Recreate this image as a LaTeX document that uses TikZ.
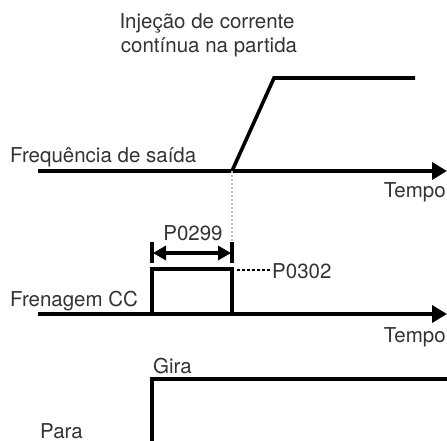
\documentclass[tikz,border=0pt]{standalone}
\usepackage{fontspec}
\setmainfont{TeX Gyre Heros}
\usetikzlibrary{arrows.meta}
\begin{document}
\begin{tikzpicture}[x=1pt, y=-1pt,
  every node/.style={font=\fontsize{20.5}{24}\selectfont, inner sep=0pt, text=black!80},
  sig/.style={line width=3.6pt, line join=miter},
  axis/.style={line width=3.6pt, -{Triangle[length=15pt,width=17pt]}},
  dim/.style={line width=3.6pt, {Triangle[length=13pt,width=14pt]}-{Triangle[length=13pt,width=14pt]}}]
\useasboundingbox (0,0) rectangle (447,441);
% labels
\node[anchor=base] (title1) at (207,29) {Injeção de corrente};
\node[anchor=base] (title2) at (209,53) {contínua na partida};
\node[anchor=base west] (freq) at (10,162) {Frequência de saída};
\node[anchor=base east] (tempo1) at (446,197) {Tempo};
\node[anchor=base] (p299) at (193,240) {P0299};
\node[anchor=base west] (p302) at (272,278) {P0302};
\node[anchor=base west] (frena) at (10,306) {Frenagem CC};
\node[anchor=base east] (tempo2) at (446,342) {Tempo};
\node[anchor=base west] (gira) at (153,373) {Gira};
\node[anchor=base west] (para) at (40,438) {Para};
% axes
\coordinate (a1) at (38,171); \coordinate (a1e) at (447,171);
\coordinate (a2) at (38,314); \coordinate (a2e) at (447,314);
\draw[axis] (a1) -- (a1e);
\draw[axis] (a2) -- (a2e);
% output frequency
\coordinate (start) at (232,171);
\draw[sig] (start) -- (274,78) -- (415,78);
\draw[gray!55, line width=1.2pt, dash pattern=on 2pt off 2pt] (start) -- (232,242);
% dc braking pulse
\draw[sig] (152,314) -- (152,269) -- (232,269) -- (232,314);
\draw[sig] (152,242) -- (152,263);
\draw[sig] (232,242) -- (232,263);
\draw[dim] (153,253) -- (231,253);
\draw[line width=1.8pt, dash pattern=on 2.5pt off 2.5pt] (237,270) -- (p302.west |- 0,270);
% run / stop
\draw[sig] (152,441) -- (152,379) -- (447,379);
\end{tikzpicture}
\end{document}
